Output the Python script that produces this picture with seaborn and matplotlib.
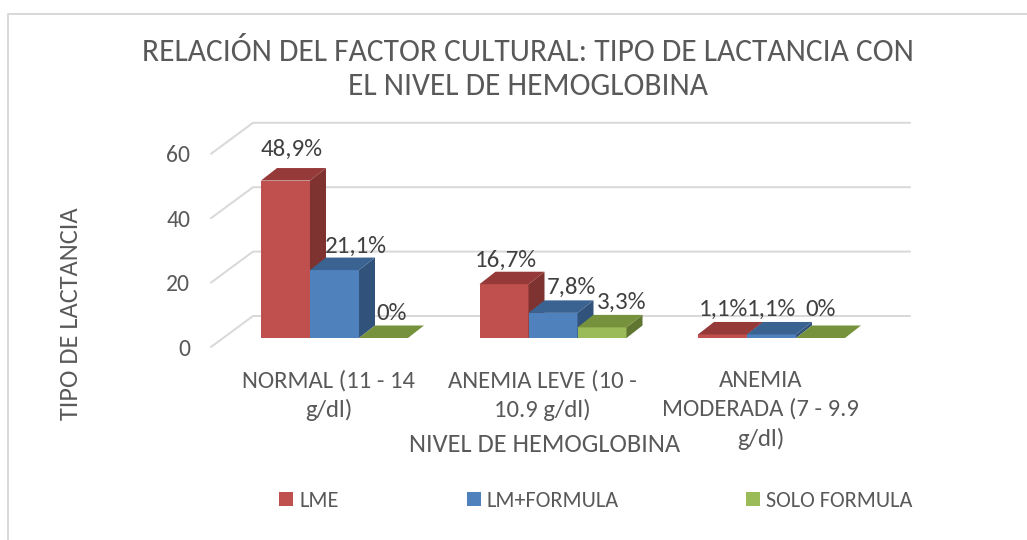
import matplotlib
matplotlib.use("Agg")
import matplotlib.pyplot as plt
from matplotlib.lines import Line2D
from matplotlib.patches import Polygon
from matplotlib.transforms import ScaledTranslation
import pandas as pd
import seaborn as sns

# ============================================
# DATOS
# ============================================
niveles = ["NORMAL (11 - 14\ng/dl)", "ANEMIA LEVE (10 -\n10.9 g/dl)", "ANEMIA\nMODERADA (7 - 9.9\ng/dl)"]
lme = [48.9, 16.7, 1.1]
lm_formula = [21.1, 7.8, 1.1]
solo_formula = [0, 3.3, 0]
series = ["LME", "LM+FORMULA", "SOLO FORMULA"]
y_ticks = [0, 20, 40, 60]

colores = ["#C0504D", "#4F81BD", "#9BBB59"]
colores_lado = ["#7E3330", "#31527A", "#5F7530"]
colores_tapa = ["#953A38", "#3B6392", "#76923C"]

# ajuste de las etiquetas respecto a la barra (px), serie por serie
ajuste_etiquetas = [
    [(6, 31), (2, 24), (1, 25.5)],
    [(21, 24), (18, 26), (0, 25.5)],
    [(8, 25), (20, 25), (0, 28)],
]
ajuste_niveles = [-6, -11, -11]

df = pd.DataFrame({
    "nivel": niveles * 3,
    "tipo": [s for s in series for _ in niveles],
    "valor": lme + lm_formula + solo_formula,
})

# ============================================
# GEOMETRIA (px de la imagen 1027x540)
# ============================================
W, H = 1027, 540
PX = 1 / 100 * 72  # 1 px en puntos
EJE_IZQ, PASO_X = 225.25, 218.5
BASE_Y, PASO_Y = 338, 3.22
FONDO_DX, FONDO_DY = 16, 12.5  # profundidad de las barras


def x_dato(px):
    return (px - EJE_IZQ) / PASO_X - 0.5


sns.set_style("white")
plt.rcParams["font.family"] = ["Carlito", "Lato", "DejaVu Sans"]
TEXTO = "#595959"

fig = plt.figure(figsize=(W / 100, H / 100), dpi=100)
ax = fig.add_axes([EJE_IZQ / W, (H - BASE_Y) / H, 3 * PASO_X / W, 60 * PASO_Y / H])

sns.barplot(data=df, x="nivel", y="valor", hue="tipo", palette=colores, saturation=1,
            width=147 / PASO_X, gap=0, ax=ax, zorder=3, linewidth=0)
ax.set_xlim(-0.5, 2.5)
ax.set_ylim(0, 60)
sns.despine(ax=ax, left=True, bottom=True)

# paredes del grafico 3D
for t in y_ticks:
    ax.plot([x_dato(211), x_dato(253), x_dato(910)],
            [t - 9 / PASO_Y, t + 22 / PASO_Y, t + 22 / PASO_Y],
            color="#D9D9D9", lw=2 * PX, clip_on=False, zorder=1)

# caras laterales y superiores a partir de las barras de seaborn
dx = FONDO_DX / PASO_X
dy = FONDO_DY / PASO_Y
for i, cont in enumerate(ax.containers):
    z = 3 + i
    for j, bar in enumerate(cont.patches):
        bar.set_zorder(z)
        x0, ancho, alto = bar.get_x(), bar.get_width(), bar.get_height()
        x1 = x0 + ancho
        lado = Polygon([(x1, 0), (x1 + dx, dy), (x1 + dx, alto + dy), (x1, alto)],
                       facecolor=colores_lado[i], edgecolor="none", clip_on=False, zorder=z)
        tapa = Polygon([(x0, alto), (x0 + dx, alto + dy), (x1 + dx, alto + dy), (x1, alto)],
                       facecolor=colores_tapa[i], edgecolor="none", clip_on=False, zorder=z)
        ax.add_patch(lado)
        ax.add_patch(tapa)
        txt = f"{alto:g}%".replace(".", ",")
        ox, oy = ajuste_etiquetas[i][j]
        ax.annotate(txt, (x0 + ancho / 2, alto), xytext=(ox * PX, oy * PX), textcoords="offset points",
                    ha="center", va="center", fontsize=18, color="#404040", zorder=10,
                    annotation_clip=False)

# ejes
ax.set_yticks(y_ticks)
ax.tick_params(axis="y", length=0, pad=35 * PX, labelsize=17, labelcolor=TEXTO)
ax.tick_params(axis="x", length=0, pad=32 * PX, labelsize=17.7, labelcolor=TEXTO)
baja = ScaledTranslation(0, -9 / 100, fig.dpi_scale_trans)
for lab in ax.get_yticklabels():
    lab.set_transform(lab.get_transform() + baja)
for lab, ajuste in zip(ax.get_xticklabels(), ajuste_niveles):
    mueve = ScaledTranslation(ajuste / 100, 0, fig.dpi_scale_trans)
    lab.set_transform(lab.get_transform() + mueve)
    lab.set_linespacing(1.42)
ax.set_xlabel("")
ax.set_ylabel("")

fig.text(545 / W, 1 - 444 / H, "NIVEL DE HEMOGLOBINA", ha="center", va="center", fontsize=19, color=TEXTO)
fig.text(70 / W, 1 - 314 / H, "TIPO DE LACTANCIA", ha="center", va="center", rotation=90, fontsize=19, color=TEXTO)
fig.suptitle("RELACIÓN DEL FACTOR CULTURAL: TIPO DE LACTANCIA CON\nEL NIVEL DE HEMOGLOBINA",
             x=528 / W, y=1 - 69 / H, ha="center", va="center", fontsize=22.7, color=TEXTO, linespacing=1.3)

# leyenda
sns.move_legend(ax, "center", bbox_to_anchor=(596 / W, 1 - 501 / H), bbox_transform=fig.transFigure,
                ncol=3, title=None, frameon=False, fontsize=16, labelcolor=TEXTO,
                handlelength=0.63, handleheight=0.63, handletextpad=0.27, columnspacing=5.75)

# marco del grafico
marco = "#D9D9D9"
fig.add_artist(Line2D([8 / W, 8 / W, 1], [0, 1 - 14 / H, 1 - 14 / H], color=marco, lw=2 * PX))

fig.savefig("out.png", dpi=100)
